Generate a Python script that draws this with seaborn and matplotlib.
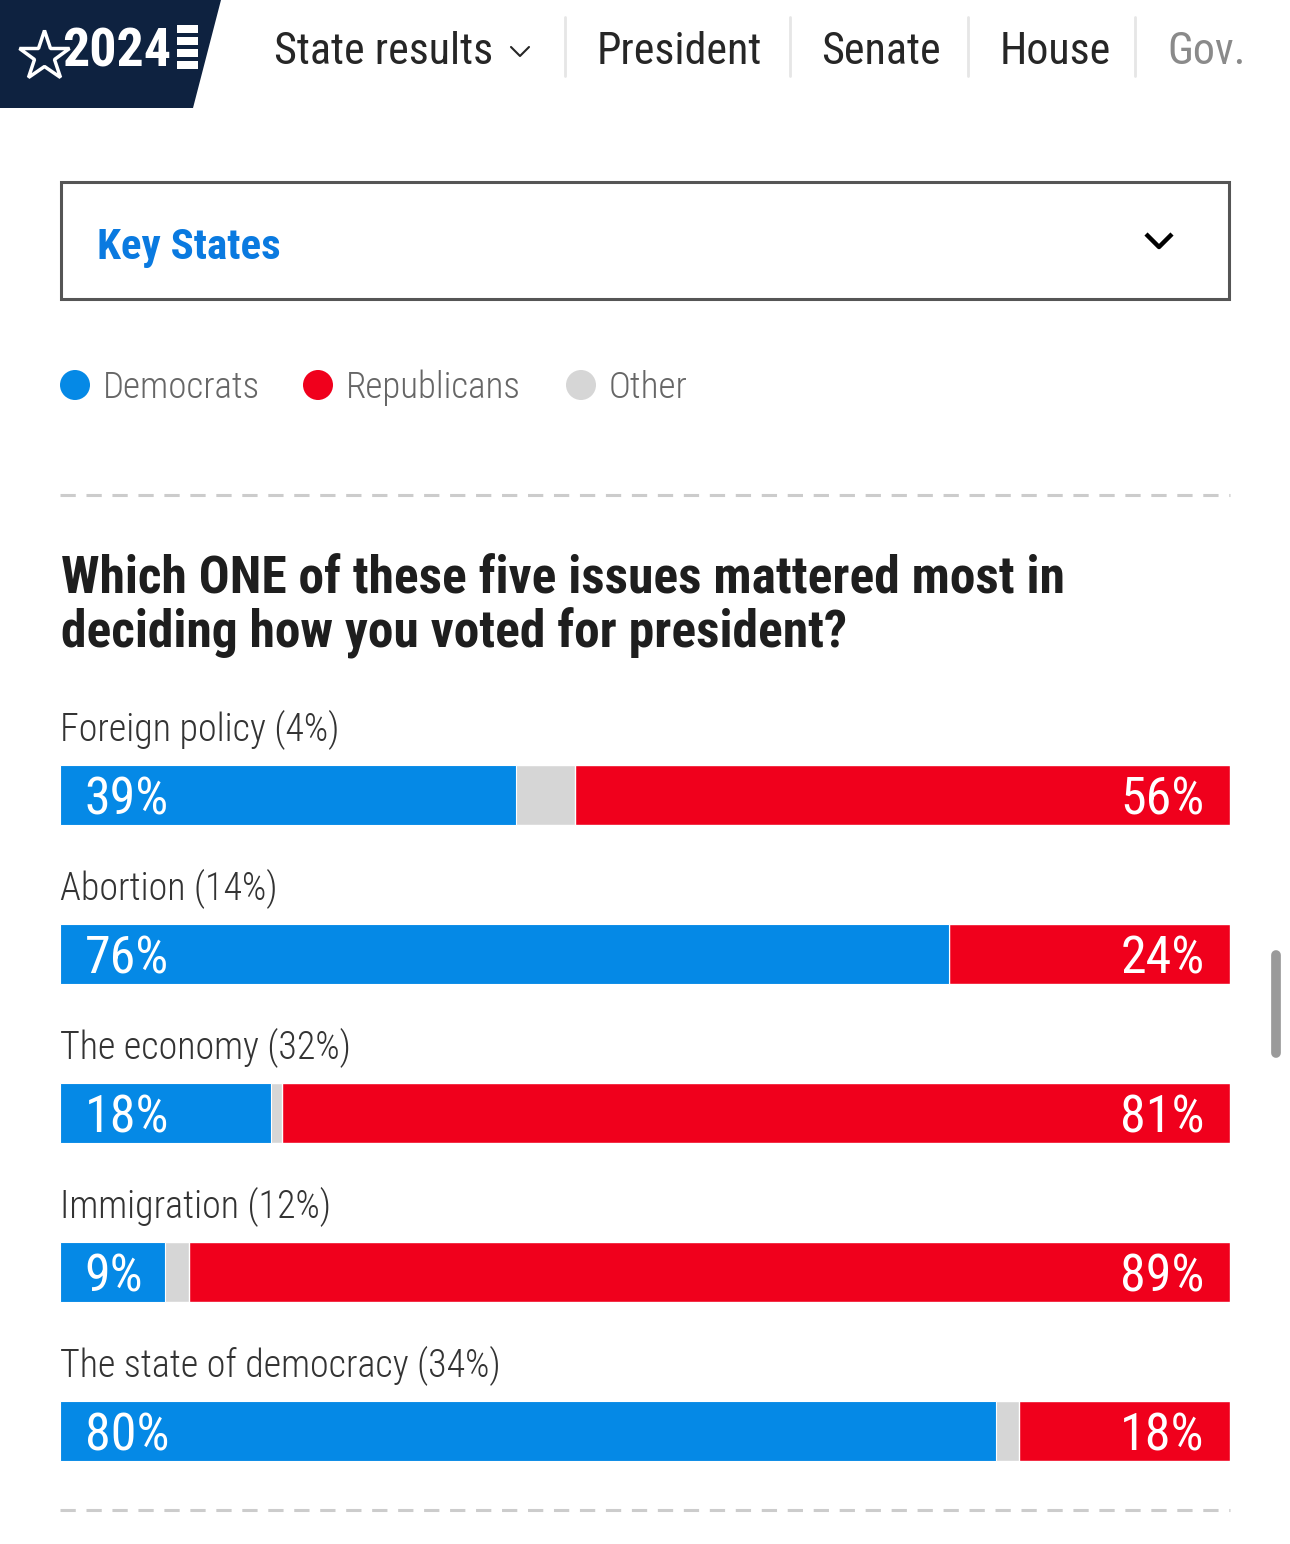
import matplotlib
matplotlib.use("Agg")
import matplotlib.pyplot as plt
from matplotlib import font_manager as fm
from matplotlib.patches import Polygon, Rectangle, Circle
import pandas as pd
import seaborn as sns

# dados
issues = ["Foreign policy", "Abortion", "The economy", "Immigration", "The state of democracy"]
share = [4, 14, 32, 12, 34]
dem = [39, 76, 18, 9, 80]
rep = [56, 24, 81, 89, 18]

legend_names = ["Democrats", "Republicans", "Other"]
nav_items = ["State results", "President", "Senate", "House", "Gov."]

BLUE = "#0589e6"
RED = "#f0001c"
GREY = "#d6d6d6"
NAVY = "#0e2240"
INK = "#262626"

# fonte condensada, se tiver
nomes = {f.name for f in fm.fontManager.ttflist}
FONT = "DejaVu Sans"
for cand in ["Roboto Condensed", "Liberation Sans Narrow", "Open Sans Condensed"]:
    if cand in nomes:
        FONT = cand
        break

sns.set_theme(style="white")
plt.rcParams["font.family"] = [FONT, "DejaVu Sans"]

df = pd.DataFrame({"issue": issues, "dem": dem, "rep": rep})
df["other"] = 100 - df.dem - df.rep
df["total"] = df.dem + df.rep + df.other
df["dem_other"] = df.dem + df.other

W, H = 1290, 1544
fig = plt.figure(figsize=(W / 100, H / 100), dpi=100)
fig.patch.set_facecolor("white")

# camada de fundo em pixels
bg = fig.add_axes([0, 0, 1, 1])
bg.set_xlim(0, W)
bg.set_ylim(H, 0)
bg.axis("off")

def pt(px):
    return px / (100 / 72)

# cabeçalho
bg.add_patch(Polygon([[0, 0], [221, 0], [193, 108], [0, 108]], closed=True, color=NAVY, lw=0))
bg.plot([44], [56], marker="*", markersize=38, markerfacecolor="none",
        markeredgecolor="white", markeredgewidth=2.5)
bg.text(62, 52, "2024", color="white", fontsize=pt(54), fontweight="bold", va="center", ha="left")
for yy in [25, 37, 49, 61]:
    bg.add_patch(Rectangle((177, yy), 21, 8, color="white", lw=0))

xs_nav = [274, 597, 821, 1000, 1167]
cols_nav = [INK, INK, INK, INK, "#8a8a8a"]
for x, t, c in zip(xs_nav, nav_items, cols_nav):
    bg.text(x, 52, t, color=c, fontsize=pt(44), va="center", ha="left")
bg.plot([511, 520, 529], [47, 56, 47], color=INK, lw=1.5)
for x in [565, 790, 968, 1135]:
    bg.plot([x, x], [17, 76], color="#e6e6e6", lw=2)

# caixa de seleção
bg.add_patch(Rectangle((61, 182), 1168, 117, fill=False, ec="#555555", lw=2.2))
bg.text(97, 248, "Key States", color="#0a7ae0", fontsize=pt(43), fontweight="bold", va="center", ha="left")
bg.plot([1146, 1159, 1172], [234, 247, 234], color="black", lw=3.2, solid_capstyle="butt")

# legenda
for x, c, t in zip([75, 318, 581], [BLUE, RED, GREY], legend_names):
    bg.add_patch(Circle((x, 385), 15, color=c, lw=0))
    bg.text(x + 28, 388, t, color="#666666", fontsize=pt(37), fontweight="light", va="center", ha="left")

# linhas tracejadas
for yy in [495, 1510]:
    bg.plot([60, 1230], [yy, yy], color="#cccccc", lw=2.2, dashes=(5, 3.5))

# título
bg.text(61, 580, "Which ONE of these five issues mattered most in", color="#1e1e1e",
        fontsize=pt(51.5), fontweight="bold", va="center", ha="left")
bg.text(61, 633, "deciding how you voted for president?", color="#1e1e1e",
        fontsize=pt(51.5), fontweight="bold", va="center", ha="left")

# barra de rolagem
bg.plot([1276, 1276], [955, 1053], color="#9a9a9a", lw=7, solid_capstyle="round")

# gráfico de barras empilhadas
ax = fig.add_axes([60 / W, (H - 1510.5) / H, 1170 / W, 795 / H])
bw = 60 / 159
sns.barplot(data=df, y="issue", x="total", color=RED, saturation=1, width=bw, orient="h", ax=ax)
sns.barplot(data=df, y="issue", x="dem_other", color=GREY, saturation=1, width=bw, orient="h", ax=ax)
sns.barplot(data=df, y="issue", x="dem", color=BLUE, saturation=1, width=bw, orient="h", ax=ax,
            edgecolor="white", linewidth=0.8)
ax.set_xlim(0, 100)
ax.set_ylim(4.5, -0.5)
ax.axis("off")

for i, row in df.iterrows():
    ax.text(0, i - 0.41, f"{row.issue} ({share[i]}%)", color="#333333",
            fontsize=pt(38), fontweight="light", va="center", ha="left")
    ax.text(2.1, i + 0.035, f"{row.dem}%", color="white", fontsize=pt(52), va="center", ha="left")
    ax.text(97.8, i + 0.035, f"{row.rep}%", color="white", fontsize=pt(52), va="center", ha="right")

fig.savefig("out.png", dpi=100, facecolor="white")
